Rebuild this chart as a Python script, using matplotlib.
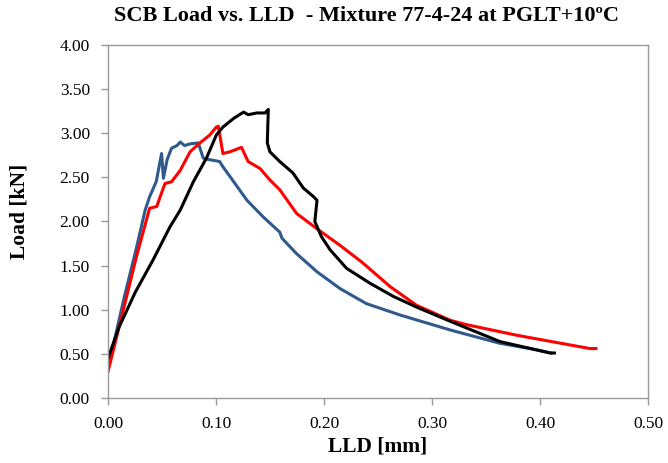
import matplotlib
matplotlib.use("Agg")
import matplotlib.pyplot as plt

# Blue specimen
blue_x = [0.0, 0.0025, 0.0152, 0.0263, 0.0344, 0.0385, 0.0446, 0.0496, 0.0513, 0.0547, 0.0588, 0.0638, 0.0669, 0.0709, 0.0760, 0.0836, 0.0881, 0.0899,
          0.1033, 0.1064, 0.1129, 0.1287, 0.1438, 0.1590, 0.1611, 0.1742, 0.1935, 0.2148, 0.2391, 0.2705, 0.3171, 0.3627, 0.3951, 0.4103]
blue_y = [0.42, 0.47, 1.15, 1.70, 2.13, 2.28, 2.45, 2.77, 2.49, 2.70, 2.83, 2.86, 2.90, 2.86, 2.88, 2.89, 2.72, 2.71,
          2.68, 2.62, 2.51, 2.24, 2.05, 1.88, 1.81, 1.64, 1.43, 1.24, 1.07, 0.94, 0.77, 0.62, 0.55, 0.51]

# Red specimen
red_x = [0.0, 0.0132, 0.0263, 0.0385, 0.0451, 0.0527, 0.0588, 0.0669, 0.0760, 0.0851, 0.0942, 0.1003, 0.1021, 0.1064, 0.1129, 0.1236, 0.1297,
         0.1408, 0.1499, 0.1590, 0.1747, 0.1965, 0.2148, 0.2360, 0.2614, 0.2857, 0.3171, 0.3323, 0.3789, 0.4463, 0.4518]
red_y = [0.30, 0.95, 1.60, 2.15, 2.17, 2.43, 2.45, 2.58, 2.79, 2.89, 2.98, 3.07, 3.08, 2.77, 2.79, 2.84, 2.68,
         2.60, 2.47, 2.36, 2.09, 1.89, 1.73, 1.53, 1.26, 1.05, 0.88, 0.83, 0.71, 0.56, 0.56]

# Black specimen
black_x = [0.0, 0.0101, 0.0253, 0.0415, 0.0574, 0.0669, 0.0790, 0.0912, 0.1003, 0.1064, 0.1165, 0.1256, 0.1297, 0.1378, 0.1454, 0.1484, 0.1475,
           0.1499, 0.1590, 0.1712, 0.1808, 0.1904, 0.1935, 0.1915, 0.1975, 0.2056, 0.2208, 0.2426, 0.2644, 0.2857, 0.3167, 0.3627, 0.4093, 0.4133]
black_y = [0.45, 0.80, 1.20, 1.56, 1.94, 2.13, 2.45, 2.72, 2.98, 3.07, 3.17, 3.24, 3.21, 3.23, 3.23, 3.27, 2.89,
           2.79, 2.68, 2.55, 2.38, 2.28, 2.24, 2.00, 1.83, 1.68, 1.47, 1.30, 1.15, 1.03, 0.87, 0.64, 0.51, 0.51]

x_ticks = [0.0, 0.1, 0.2, 0.3, 0.4, 0.5]
y_ticks = [0.0, 0.5, 1.0, 1.5, 2.0, 2.5, 3.0, 3.5, 4.0]

plt.rcParams['font.family'] = ['Liberation Serif', 'DejaVu Serif']

fig = plt.figure(figsize=(6.68, 4.63), dpi=100)
ax = fig.add_axes([0.1617, 0.1404, 0.8084, 0.7624])

ax.plot(blue_x, blue_y, color='#2F5A8E', lw=2.2, solid_joinstyle='round')
ax.plot(red_x, red_y, color='#FF0000', lw=2.2, solid_joinstyle='round')
ax.plot(black_x, black_y, color='#000000', lw=2.2, solid_joinstyle='round')

ax.set_xlim(0, 0.5)
ax.set_ylim(0, 4.0)
ax.set_xticks(x_ticks)
ax.set_yticks(y_ticks)
ax.set_xticklabels([f"{v:.2f}" for v in x_ticks], fontsize=12.5)
ax.set_yticklabels([f"{v:.2f}" for v in y_ticks], fontsize=12.5)
ax.tick_params(direction='out', length=5, color='#999999', width=1)
ax.tick_params(axis='y', pad=8)
ax.tick_params(axis='x', pad=8)
for s in ax.spines.values():
    s.set_color('#999999')
    s.set_linewidth(1)

ax.set_xlabel('LLD [mm]', fontsize=15.5, fontweight='bold')
ax.set_ylabel('Load [kN]', fontsize=15.5, fontweight='bold')
ax.xaxis.set_label_coords(0.5, -0.137)
ax.yaxis.set_label_coords(-0.163, 0.528)
for lab in (ax.xaxis.label, ax.yaxis.label):
    lab.set_va('center')
    lab.set_ha('center')
fig.text(0.548, 0.965, 'SCB Load vs. LLD  - Mixture 77-4-24 at PGLT+10ºC', ha='center', va='center',
         fontsize=16, fontweight='bold')

fig.savefig('out.png', dpi=100)
